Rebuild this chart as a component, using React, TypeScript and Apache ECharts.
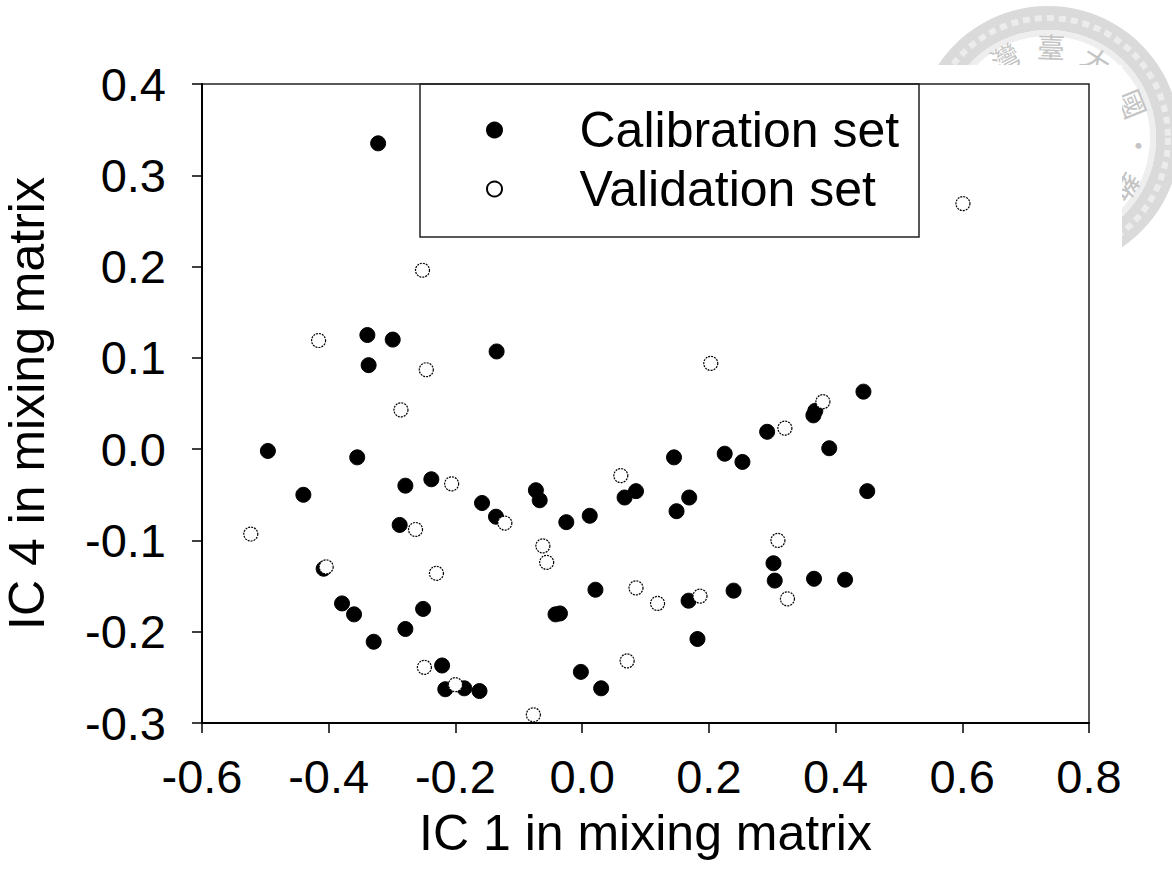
import React, { useEffect, useRef } from "react";
import * as echarts from "echarts";

const X_TICK_LABELS = ["-0.6", "-0.4", "-0.2", "0.0", "0.2", "0.4", "0.6", "0.8"];
const Y_TICK_LABELS = ["-0.3", "-0.2", "-0.1", "0.0", "0.1", "0.2", "0.3", "0.4"];
const X_MIN = -0.6, X_MAX = 0.8, X_STEP = 0.2;
const Y_MIN = -0.3, Y_MAX = 0.4, Y_STEP = 0.1;
const X_TITLE = "IC 1 in mixing matrix";
const Y_TITLE = "IC 4 in mixing matrix";
const SERIES_NAMES = ["Calibration set", "Validation set"];

const calibration: [number, number][] = [
  [-0.496, -0.002], [-0.355, -0.009], [-0.44, -0.05], [-0.279, -0.04], [-0.238, -0.033],
  [-0.288, -0.083], [-0.158, -0.059], [-0.136, -0.074], [-0.073, -0.045], [-0.067, -0.056],
  [-0.025, -0.08], [0.012, -0.073], [0.067, -0.053], [0.085, -0.046], [-0.379, -0.169],
  [-0.36, -0.181], [-0.329, -0.211], [-0.251, -0.175], [-0.279, -0.197], [-0.408, -0.131],
  [-0.221, -0.237], [-0.216, -0.263], [-0.186, -0.262], [-0.162, -0.265], [0.021, -0.154],
  [-0.042, -0.181], [-0.035, -0.18], [-0.002, -0.244], [0.03, -0.262], [-0.322, 0.335],
  [-0.339, 0.125], [-0.299, 0.12], [-0.337, 0.092], [-0.135, 0.107], [0.444, 0.063],
  [0.365, 0.037], [0.368, 0.042], [0.292, 0.019], [0.39, 0.001], [0.145, -0.009],
  [0.225, -0.005], [0.253, -0.014], [0.45, -0.046], [0.149, -0.068], [0.169, -0.053],
  [0.302, -0.125], [0.304, -0.144], [0.366, -0.142], [0.415, -0.143], [0.168, -0.166],
  [0.239, -0.155], [0.182, -0.208],
];

const validation: [number, number][] = [
  [-0.286, 0.043], [-0.523, -0.093], [-0.206, -0.038], [-0.263, -0.088], [-0.122, -0.081],
  [-0.404, -0.129], [-0.23, -0.136], [-0.062, -0.106], [-0.056, -0.124], [0.061, -0.029],
  [0.085, -0.152], [-0.249, -0.239], [-0.2, -0.258], [-0.077, -0.291], [0.071, -0.232],
  [-0.416, 0.119], [-0.252, 0.196], [-0.246, 0.087], [0.203, 0.094], [0.38, 0.052],
  [0.601, 0.269], [0.32, 0.023], [0.309, -0.1], [0.324, -0.164], [0.119, -0.169],
  [0.186, -0.161],
];

const SEAL_CHARS = ["灣", "臺", "大", "國", "·", "教", "育"];
const SEAL_ANGLES = [-28, 2, 32, 68, 95, 122, 150];

const FONT = "'Liberation Sans', Arial, sans-serif";

export default function App() {
  const ref = useRef<HTMLDivElement>(null);
  useEffect(() => {
    document.body.style.margin = "0";
    if (!ref.current) return;
    const chart = echarts.init(ref.current, null, { renderer: "svg" });
    const cx = 1048, cy = 138;
    const sealTexts = SEAL_CHARS.map((ch, i) => {
      const a = (SEAL_ANGLES[i] * Math.PI) / 180;
      const r = 92;
      return {
        type: "text",
        z: -10,
        x: cx + r * Math.sin(a),
        y: cy - r * Math.cos(a),
        rotation: -a,
        style: {
          text: ch,
          fill: "#c4c4c4",
          font: "28px 'Noto Sans CJK TC'",
          align: "center",
          verticalAlign: "middle",
        },
      };
    });
    const option: any = {
      animation: false,
      graphic: [
        { type: "ring", z: -10, shape: { cx, cy, r: 132, r0: 108 }, style: { fill: "#dadada" } },
        { type: "circle", z: -10, shape: { cx, cy, r: 120 }, style: { fill: "none", stroke: "#ececec", lineWidth: 6, lineDash: [7, 5] } },
        { type: "ring", z: -10, shape: { cx, cy, r: 108, r0: 102 }, style: { fill: "#eeeeee" } },
        ...sealTexts,
        { type: "rect", z: -5, shape: { x: 0, y: 65, width: 1122, height: 825 }, style: { fill: "#fff" } },
        {
          type: "rect",
          z: 5,
          shape: { x: 420, y: 84, width: 499, height: 153 },
          style: { fill: "none", stroke: "#222", lineWidth: 1.5 },
        },
      ],
      grid: {
        left: 202,
        right: 83,
        top: 84,
        bottom: 167,
        outerBoundsMode: "none",
        containLabel: false,
        show: true,
        borderColor: "#222",
        borderWidth: 1.5,
        backgroundColor: "transparent",
      },
      legend: {
        orient: "vertical",
        left: 486,
        top: 105,
        padding: 0,
        itemWidth: 40,
        itemHeight: 15,
        itemGap: 9,
        textStyle: { fontSize: 50, fontFamily: FONT, color: "#000", lineHeight: 50, padding: [0, 0, 0, 60] },
        data: SERIES_NAMES,
      },
      xAxis: {
        type: "value",
        min: X_MIN,
        max: X_MAX,
        interval: X_STEP,
        name: X_TITLE,
        nameLocation: "middle",
        nameGap: 85,
        nameTextStyle: { fontSize: 50, fontFamily: FONT, color: "#000" },
        axisLine: { show: true, onZero: false, lineStyle: { color: "#000", width: 2 } },
        axisTick: { show: true, inside: false, length: 10, lineStyle: { color: "#000", width: 1.5 } },
        axisLabel: {
          fontSize: 47,
          fontFamily: FONT,
          color: "#000",
          margin: 30,
          formatter: (v: number) => X_TICK_LABELS[Math.round((v - X_MIN) / X_STEP)],
        },
        splitLine: { show: false },
      },
      yAxis: {
        type: "value",
        min: Y_MIN,
        max: Y_MAX,
        interval: Y_STEP,
        name: Y_TITLE,
        nameLocation: "middle",
        nameGap: 150,
        nameTextStyle: { fontSize: 50, fontFamily: FONT, color: "#000" },
        axisLine: { show: true, onZero: false, lineStyle: { color: "#000", width: 2 } },
        axisTick: { show: true, inside: false, length: 10, lineStyle: { color: "#000", width: 1.5 } },
        axisLabel: {
          fontSize: 47,
          fontFamily: FONT,
          color: "#000",
          margin: 36,
          formatter: (v: number) => Y_TICK_LABELS[Math.round((v - Y_MIN) / Y_STEP)],
        },
        splitLine: { show: false },
      },
      series: [
        {
          name: SERIES_NAMES[0],
          type: "scatter",
          symbol: "circle",
          symbolSize: 15,
          itemStyle: { color: "#000", borderColor: "#000", borderWidth: 1, opacity: 1 },
          data: calibration,
        },
        {
          name: SERIES_NAMES[1],
          type: "scatter",
          symbol: "circle",
          symbolSize: 14,
          itemStyle: { color: "#fff", borderColor: "#000", borderWidth: 1.2, borderType: [2, 1], opacity: 1 },
          data: validation,
        },
      ],
    };
    chart.setOption(option);
    return () => chart.dispose();
  }, []);
  return <div ref={ref} style={{ width: 1172, height: 890 }} />;
}
